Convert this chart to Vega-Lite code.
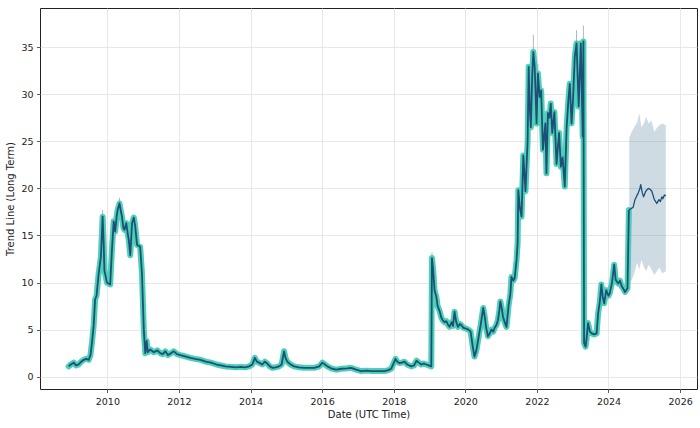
{
  "$schema": "https://vega.github.io/schema/vega-lite/v6.json",
  "width": 657,
  "height": 381,
  "autosize": "none",
  "padding": {"left": 40, "top": 8, "right": 3, "bottom": 39},
  "background": "white",
  "config": {
    "view": {"stroke": "#222222", "strokeWidth": 1},
    "font": "DejaVu Sans",
    "axis": {
      "labelFont": "DejaVu Sans", "titleFont": "DejaVu Sans",
      "labelFontSize": 9.5, "titleFontSize": 10, "titleFontWeight": "normal",
      "labelColor": "#222222", "titleColor": "#222222",
      "tickColor": "#333333", "tickSize": 3.5, "tickWidth": 0.8,
      "gridColor": "#e2e2e2", "gridWidth": 0.8,
      "domain": false, "labelPadding": 3.5
    }
  },
  "datasets": {
    "hist": [
      {"d": "2008-12-02", "v": 1.1}, {"d": "2008-12-24", "v": 1.3}, {"d": "2009-01-22", "v": 1.5},
      {"d": "2009-02-17", "v": 1.2}, {"d": "2009-03-14", "v": 1.3}, {"d": "2009-04-09", "v": 1.6},
      {"d": "2009-05-05", "v": 1.8}, {"d": "2009-05-31", "v": 1.9}, {"d": "2009-06-25", "v": 1.8},
      {"d": "2009-07-13", "v": 2.3}, {"d": "2009-07-28", "v": 3.6}, {"d": "2009-08-15", "v": 5.5},
      {"d": "2009-08-29", "v": 8.2}, {"d": "2009-09-13", "v": 8.6}, {"d": "2009-10-05", "v": 11.0},
      {"d": "2009-10-27", "v": 12.7}, {"d": "2009-11-14", "v": 17.0}, {"d": "2009-11-25", "v": 14.0},
      {"d": "2009-12-02", "v": 11.3}, {"d": "2009-12-28", "v": 10.0}, {"d": "2010-01-30", "v": 9.8},
      {"d": "2010-02-17", "v": 13.5}, {"d": "2010-03-07", "v": 16.5}, {"d": "2010-03-22", "v": 15.4},
      {"d": "2010-04-06", "v": 17.0}, {"d": "2010-04-16", "v": 17.7}, {"d": "2010-05-05", "v": 18.4},
      {"d": "2010-05-19", "v": 17.6}, {"d": "2010-05-30", "v": 17.0}, {"d": "2010-06-14", "v": 15.8},
      {"d": "2010-06-25", "v": 15.6}, {"d": "2010-07-13", "v": 16.3}, {"d": "2010-07-28", "v": 15.2},
      {"d": "2010-08-08", "v": 14.5}, {"d": "2010-08-23", "v": 12.9}, {"d": "2010-09-10", "v": 16.3},
      {"d": "2010-09-28", "v": 16.9}, {"d": "2010-10-12", "v": 16.0}, {"d": "2010-10-31", "v": 14.0},
      {"d": "2010-12-02", "v": 13.8}, {"d": "2010-12-20", "v": 11.0}, {"d": "2011-01-08", "v": 5.0},
      {"d": "2011-01-23", "v": 2.5}, {"d": "2011-02-06", "v": 3.8}, {"d": "2011-02-17", "v": 2.6},
      {"d": "2011-03-14", "v": 2.9}, {"d": "2011-04-20", "v": 2.6}, {"d": "2011-05-26", "v": 2.8},
      {"d": "2011-06-25", "v": 2.5}, {"d": "2011-07-20", "v": 2.4}, {"d": "2011-08-15", "v": 2.7},
      {"d": "2011-09-13", "v": 2.3}, {"d": "2011-10-12", "v": 2.5}, {"d": "2011-11-10", "v": 2.7},
      {"d": "2011-12-13", "v": 2.4}, {"d": "2012-01-15", "v": 2.3}, {"d": "2012-02-24", "v": 2.2},
      {"d": "2012-04-27", "v": 2.0}, {"d": "2012-06-14", "v": 1.9}, {"d": "2012-08-08", "v": 1.8},
      {"d": "2012-10-02", "v": 1.6}, {"d": "2012-11-22", "v": 1.5}, {"d": "2013-01-19", "v": 1.3},
      {"d": "2013-03-04", "v": 1.2}, {"d": "2013-04-20", "v": 1.1}, {"d": "2013-06-14", "v": 1.05},
      {"d": "2013-08-08", "v": 1.0}, {"d": "2013-09-24", "v": 1.05}, {"d": "2013-11-07", "v": 1.0},
      {"d": "2013-12-17", "v": 1.1}, {"d": "2014-01-19", "v": 1.3}, {"d": "2014-02-14", "v": 2.0},
      {"d": "2014-03-07", "v": 1.6}, {"d": "2014-03-29", "v": 1.5}, {"d": "2014-05-01", "v": 1.3},
      {"d": "2014-05-27", "v": 1.6}, {"d": "2014-06-21", "v": 1.4}, {"d": "2014-07-17", "v": 1.1},
      {"d": "2014-08-11", "v": 0.95}, {"d": "2014-09-13", "v": 1.0}, {"d": "2014-10-19", "v": 1.1},
      {"d": "2014-11-14", "v": 1.3}, {"d": "2014-12-09", "v": 2.7}, {"d": "2014-12-24", "v": 2.0},
      {"d": "2015-01-11", "v": 1.6}, {"d": "2015-02-13", "v": 1.3}, {"d": "2015-03-22", "v": 1.1},
      {"d": "2015-05-08", "v": 1.0}, {"d": "2015-07-02", "v": 0.95}, {"d": "2015-08-26", "v": 0.95},
      {"d": "2015-10-13", "v": 0.95}, {"d": "2015-12-03", "v": 1.1}, {"d": "2016-01-04", "v": 1.5},
      {"d": "2016-01-30", "v": 1.3}, {"d": "2016-02-24", "v": 1.1}, {"d": "2016-04-01", "v": 0.9},
      {"d": "2016-05-22", "v": 0.75}, {"d": "2016-07-20", "v": 0.85}, {"d": "2016-09-13", "v": 0.9},
      {"d": "2016-10-23", "v": 0.95}, {"d": "2016-12-13", "v": 0.75}, {"d": "2017-02-03", "v": 0.6},
      {"d": "2017-04-02", "v": 0.65}, {"d": "2017-05-16", "v": 0.6}, {"d": "2017-07-20", "v": 0.6},
      {"d": "2017-09-28", "v": 0.6}, {"d": "2017-11-07", "v": 0.7}, {"d": "2017-12-06", "v": 0.85},
      {"d": "2018-01-19", "v": 1.9}, {"d": "2018-02-06", "v": 1.6}, {"d": "2018-02-28", "v": 1.45},
      {"d": "2018-03-25", "v": 1.5}, {"d": "2018-04-20", "v": 1.6}, {"d": "2018-05-19", "v": 1.3},
      {"d": "2018-06-28", "v": 1.1}, {"d": "2018-07-27", "v": 1.2}, {"d": "2018-08-22", "v": 1.7},
      {"d": "2018-09-13", "v": 1.5}, {"d": "2018-10-09", "v": 1.3}, {"d": "2018-11-03", "v": 1.4},
      {"d": "2018-11-29", "v": 1.3}, {"d": "2018-12-24", "v": 1.2}, {"d": "2019-01-19", "v": 1.1},
      {"d": "2019-01-26", "v": 12.6}, {"d": "2019-02-06", "v": 11.5}, {"d": "2019-02-21", "v": 9.2},
      {"d": "2019-03-11", "v": 8.5}, {"d": "2019-03-25", "v": 7.5}, {"d": "2019-04-13", "v": 7.0},
      {"d": "2019-05-01", "v": 6.3}, {"d": "2019-05-16", "v": 6.0}, {"d": "2019-06-03", "v": 5.8},
      {"d": "2019-06-21", "v": 5.9}, {"d": "2019-07-10", "v": 5.5}, {"d": "2019-07-24", "v": 5.3},
      {"d": "2019-08-15", "v": 5.8}, {"d": "2019-08-29", "v": 5.4}, {"d": "2019-09-13", "v": 6.9},
      {"d": "2019-10-01", "v": 5.8}, {"d": "2019-10-19", "v": 5.3}, {"d": "2019-11-07", "v": 5.6},
      {"d": "2019-11-21", "v": 5.5}, {"d": "2019-12-13", "v": 5.2}, {"d": "2020-01-11", "v": 5.1},
      {"d": "2020-02-02", "v": 5.0}, {"d": "2020-02-24", "v": 4.8}, {"d": "2020-03-17", "v": 3.2},
      {"d": "2020-04-04", "v": 2.15}, {"d": "2020-04-23", "v": 2.8}, {"d": "2020-05-11", "v": 3.9},
      {"d": "2020-06-06", "v": 5.5}, {"d": "2020-07-02", "v": 7.3}, {"d": "2020-07-17", "v": 6.4},
      {"d": "2020-08-01", "v": 5.2}, {"d": "2020-08-19", "v": 4.3}, {"d": "2020-09-06", "v": 4.6},
      {"d": "2020-09-24", "v": 5.0}, {"d": "2020-10-13", "v": 4.8}, {"d": "2020-10-27", "v": 5.2},
      {"d": "2020-11-14", "v": 5.5}, {"d": "2020-11-29", "v": 6.0}, {"d": "2020-12-13", "v": 7.0},
      {"d": "2020-12-24", "v": 8.0}, {"d": "2021-01-08", "v": 7.2}, {"d": "2021-01-19", "v": 6.4},
      {"d": "2021-02-06", "v": 5.8}, {"d": "2021-02-24", "v": 5.3}, {"d": "2021-03-18", "v": 7.6},
      {"d": "2021-04-05", "v": 8.8}, {"d": "2021-04-16", "v": 10.6}, {"d": "2021-05-05", "v": 10.2},
      {"d": "2021-05-19", "v": 10.5}, {"d": "2021-06-07", "v": 12.4}, {"d": "2021-06-18", "v": 14.2},
      {"d": "2021-06-25", "v": 19.8}, {"d": "2021-07-10", "v": 18.0}, {"d": "2021-07-28", "v": 17.0},
      {"d": "2021-08-15", "v": 23.5}, {"d": "2021-09-06", "v": 19.7}, {"d": "2021-09-28", "v": 25.1},
      {"d": "2021-10-09", "v": 32.9}, {"d": "2021-10-20", "v": 28.5}, {"d": "2021-10-31", "v": 26.5},
      {"d": "2021-11-14", "v": 32.0}, {"d": "2021-11-25", "v": 34.5}, {"d": "2021-12-09", "v": 32.9},
      {"d": "2021-12-28", "v": 26.9}, {"d": "2022-01-11", "v": 32.2}, {"d": "2022-01-29", "v": 29.7},
      {"d": "2022-02-13", "v": 30.4}, {"d": "2022-03-03", "v": 24.1}, {"d": "2022-03-28", "v": 26.9},
      {"d": "2022-04-08", "v": 21.6}, {"d": "2022-04-23", "v": 28.0}, {"d": "2022-05-08", "v": 27.5},
      {"d": "2022-05-22", "v": 29.0}, {"d": "2022-06-06", "v": 25.9}, {"d": "2022-06-28", "v": 28.1},
      {"d": "2022-07-20", "v": 22.6}, {"d": "2022-08-15", "v": 25.9}, {"d": "2022-09-02", "v": 22.3},
      {"d": "2022-09-20", "v": 23.3}, {"d": "2022-10-12", "v": 20.2}, {"d": "2022-10-31", "v": 26.5},
      {"d": "2022-11-18", "v": 29.4}, {"d": "2022-12-02", "v": 31.1}, {"d": "2022-12-20", "v": 26.9},
      {"d": "2023-01-04", "v": 29.4}, {"d": "2023-01-22", "v": 34.0}, {"d": "2023-02-09", "v": 35.4},
      {"d": "2023-03-03", "v": 28.7}, {"d": "2023-03-25", "v": 35.4}, {"d": "2023-04-13", "v": 25.5},
      {"d": "2023-04-20", "v": 35.6}, {"d": "2023-04-27", "v": 3.6}, {"d": "2023-05-12", "v": 3.2},
      {"d": "2023-05-22", "v": 4.0}, {"d": "2023-06-06", "v": 5.7}, {"d": "2023-06-25", "v": 4.8},
      {"d": "2023-07-13", "v": 4.6}, {"d": "2023-08-08", "v": 4.5}, {"d": "2023-09-02", "v": 4.6},
      {"d": "2023-09-17", "v": 6.7}, {"d": "2023-10-05", "v": 8.0}, {"d": "2023-10-20", "v": 9.8},
      {"d": "2023-11-03", "v": 8.5}, {"d": "2023-11-18", "v": 7.8}, {"d": "2023-12-09", "v": 9.2},
      {"d": "2024-01-01", "v": 8.6}, {"d": "2024-01-15", "v": 8.9}, {"d": "2024-02-06", "v": 10.0},
      {"d": "2024-02-28", "v": 11.9}, {"d": "2024-03-14", "v": 10.3}, {"d": "2024-04-09", "v": 9.9},
      {"d": "2024-04-27", "v": 10.2}, {"d": "2024-05-15", "v": 9.6}, {"d": "2024-06-03", "v": 9.3},
      {"d": "2024-06-17", "v": 9.0}, {"d": "2024-07-13", "v": 9.4}, {"d": "2024-07-27", "v": 17.7}
    ],
    "fc": [
      {"d": "2024-07-27", "v": 17.7}, {"d": "2024-08-26", "v": 17.9}, {"d": "2024-09-09", "v": 18.0},
      {"d": "2024-09-27", "v": 18.8}, {"d": "2024-10-15", "v": 19.2}, {"d": "2024-10-30", "v": 19.5},
      {"d": "2024-11-14", "v": 19.9}, {"d": "2024-11-25", "v": 20.4}, {"d": "2024-12-09", "v": 19.6},
      {"d": "2024-12-24", "v": 19.1}, {"d": "2025-01-15", "v": 19.7}, {"d": "2025-02-10", "v": 20.0},
      {"d": "2025-02-28", "v": 19.9}, {"d": "2025-03-18", "v": 19.7}, {"d": "2025-04-13", "v": 18.8},
      {"d": "2025-05-08", "v": 18.4}, {"d": "2025-05-30", "v": 18.8}, {"d": "2025-06-14", "v": 18.6},
      {"d": "2025-06-28", "v": 19.1}, {"d": "2025-07-09", "v": 18.9}, {"d": "2025-07-24", "v": 19.3},
      {"d": "2025-08-08", "v": 19.2}
    ],
    "band": [
      {"d": "2024-07-31", "lo": 9.8, "hi": 25.4}, {"d": "2024-08-26", "lo": 10.3, "hi": 26.0},
      {"d": "2024-09-20", "lo": 11.0, "hi": 26.5}, {"d": "2024-10-19", "lo": 12.1, "hi": 27.0},
      {"d": "2024-11-10", "lo": 11.4, "hi": 28.0}, {"d": "2024-12-02", "lo": 12.4, "hi": 26.5},
      {"d": "2024-12-24", "lo": 11.7, "hi": 26.8}, {"d": "2025-01-19", "lo": 11.2, "hi": 27.6},
      {"d": "2025-02-14", "lo": 11.9, "hi": 26.9}, {"d": "2025-03-14", "lo": 11.4, "hi": 27.2},
      {"d": "2025-04-13", "lo": 10.8, "hi": 26.0}, {"d": "2025-05-08", "lo": 11.2, "hi": 26.4},
      {"d": "2025-06-03", "lo": 11.6, "hi": 26.7}, {"d": "2025-07-02", "lo": 11.0, "hi": 26.9},
      {"d": "2025-08-08", "lo": 11.2, "hi": 26.7}
    ],
    "spikes": [
      {"d": "2009-11-14", "lo": 16.5, "hi": 17.7}, {"d": "2010-05-05", "lo": 18.0, "hi": 19.0},
      {"d": "2019-01-26", "lo": 12.0, "hi": 13.2}, {"d": "2021-11-25", "lo": 34.0, "hi": 36.3},
      {"d": "2022-01-11", "lo": 31.5, "hi": 33.2}, {"d": "2023-02-09", "lo": 35.0, "hi": 36.8},
      {"d": "2023-04-20", "lo": 35.0, "hi": 37.3}
    ]
  },
  "encoding": {
    "x": {
      "field": "d", "type": "temporal",
      "scale": {"type": "utc", "domain": [{"year": 2008, "month": 2, "date": 14, "utc": true}, {"year": 2026, "month": 6, "date": 22, "utc": true}], "nice": false},
      "axis": {"title": "Date (UTC Time)", "format": "%Y", "formatType": "utc", "tickCount": {"interval": "year", "step": 2}, "grid": true, "titlePadding": 4, "labelFlush": false, "labelOverlap": false}
    }
  },
  "layer": [
    {
      "data": {"name": "band"},
      "mark": {"type": "area", "color": "#3f6f91", "opacity": 0.25, "interpolate": "linear"},
      "encoding": {
        "y": {"field": "lo", "type": "quantitative", "scale": {"domain": [-1.3, 39.15], "nice": false, "zero": false},
          "axis": {"title": "Trend Line (Long Term)", "values": [0, 5, 10, 15, 20, 25, 30, 35], "grid": true, "titlePadding": 5}},
        "y2": {"field": "hi"}
      }
    },
    {
      "data": {"name": "spikes"},
      "mark": {"type": "rule", "color": "#aab8c4", "strokeWidth": 1},
      "encoding": {"y": {"field": "lo", "type": "quantitative"}, "y2": {"field": "hi"}}
    },
    {
      "data": {"name": "hist"},
      "mark": {"type": "line", "color": "#45cdb2", "strokeWidth": 6, "strokeJoin": "round", "strokeCap": "round", "opacity": 0.95},
      "encoding": {"y": {"field": "v", "type": "quantitative"}}
    },
    {
      "data": {"name": "hist"},
      "mark": {"type": "line", "color": "#1d5078", "strokeWidth": 1.8, "strokeJoin": "round"},
      "encoding": {"y": {"field": "v", "type": "quantitative"}}
    },
    {
      "data": {"name": "fc"},
      "mark": {"type": "line", "color": "#1d5078", "strokeWidth": 1.3, "strokeJoin": "round"},
      "encoding": {"y": {"field": "v", "type": "quantitative"}}
    }
  ]
}
